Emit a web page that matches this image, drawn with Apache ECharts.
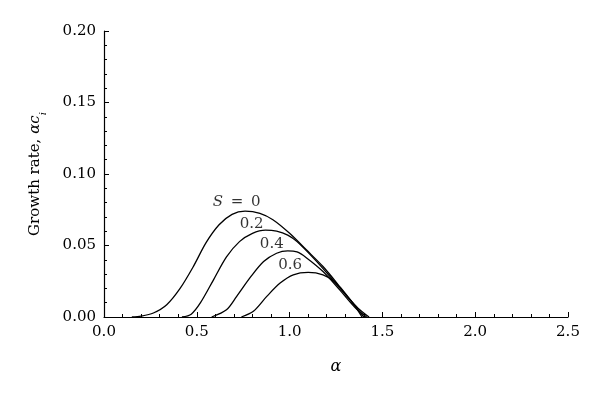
<!DOCTYPE html>
<html>
<head>
<meta charset="utf-8">
<script src="https://cdn.jsdelivr.net/npm/echarts@6/dist/echarts.min.js"></script>
<style>
  html, body { margin: 0; padding: 0; background: #fff; }
  #chart { width: 600px; height: 398px; }
</style>
</head>
<body>
<div id="chart"></div>
<script>
// curves, one pair of arrays per S
const alphaS0 = [0.15, 0.20, 0.266, 0.338, 0.41, 0.48, 0.55, 0.62, 0.69, 0.76, 0.84, 0.91, 1.00, 1.09, 1.18, 1.27, 1.34, 1.39]
const growthS0 = [0, 0.0006, 0.0028, 0.0086, 0.020, 0.035, 0.052, 0.0645, 0.0718, 0.0740, 0.0725, 0.0680, 0.0585, 0.0470, 0.0353, 0.0213, 0.0098, 0]

const alphaS02 = [0.42, 0.47, 0.52, 0.59, 0.66, 0.73, 0.80, 0.87, 0.93, 0.99, 1.04, 1.13, 1.22, 1.31, 1.40]
const growthS02 = [0, 0.002, 0.010, 0.026, 0.042, 0.0527, 0.0585, 0.0607, 0.0600, 0.0573, 0.0527, 0.041, 0.028, 0.0144, 0]

const alphaS04 = [0.58, 0.66, 0.715, 0.79, 0.86, 0.93, 0.99, 1.04, 1.09, 1.18, 1.27, 1.35, 1.415]
const growthS04 = [0, 0.005, 0.0144, 0.028, 0.0388, 0.0446, 0.0463, 0.0455, 0.0415, 0.0318, 0.019, 0.007, 0]

const alphaS06 = [0.74, 0.805, 0.877, 0.949, 1.02, 1.10, 1.18, 1.24, 1.31, 1.37, 1.428]
const growthS06 = [0, 0.004, 0.0144, 0.0237, 0.0295, 0.0312, 0.0295, 0.0248, 0.0144, 0.006, 0]

// curve labels (data coords)
const labelText = ['{s|S}\u2009 = \u20090', '0.2', '0.4', '0.6']
const labelAlpha = [0.715, 0.796, 0.904, 1.003]
const labelGrowth = [0.0806, 0.065, 0.051, 0.0365]

const FONT = 'DejaVu Serif'

const zip = (xs, ys) => xs.map((x, i) => [x, ys[i]])

function curve(xs, ys) {
  return {
    type: 'line',
    data: zip(xs, ys),
    smooth: 0.3,
    showSymbol: false,
    silent: true,
    lineStyle: { color: '#000', width: 1.3 },
    animation: false
  }
}

const chart = echarts.init(document.getElementById('chart'), null, { renderer: 'canvas' })

chart.setOption({
  backgroundColor: '#fff',
  textStyle: { fontFamily: FONT },
  grid: { left: 104, right: 32, top: 31, bottom: 81 },
  xAxis: {
    type: 'value',
    min: 0,
    max: 2.5,
    interval: 0.5,
    name: 'α',
    nameLocation: 'middle',
    nameGap: 42,
    nameTextStyle: { fontFamily: FONT, fontSize: 16, fontStyle: 'italic', color: '#000' },
    axisLine: { show: true, onZero: false, lineStyle: { color: '#000', width: 1.2 } },
    axisTick: { show: true, inside: true, length: 5, lineStyle: { color: '#000' } },
    minorTick: { show: true, splitNumber: 5, length: 3, lineStyle: { color: '#000' } },
    splitLine: { show: false },
    axisLabel: { color: '#000', fontFamily: FONT, fontSize: 15, margin: 8, formatter: v => v.toFixed(1) }
  },
  yAxis: {
    type: 'value',
    min: 0,
    max: 0.2,
    interval: 0.05,
    name: '{n|Growth rate, }{i|αc}{b|i}',
    nameLocation: 'middle',
    nameRotate: 90,
    nameGap: 59,
    nameTextStyle: {
      color: '#000',
      rich: {
        n: { fontFamily: FONT, fontSize: 15, color: '#000', lineHeight: 20, verticalAlign: 'middle' },
        i: { fontFamily: FONT, fontSize: 15, fontStyle: 'italic', color: '#000', lineHeight: 20, verticalAlign: 'middle' },
        b: { fontFamily: FONT, fontSize: 10, fontStyle: 'italic', color: '#000', lineHeight: 20, verticalAlign: 'bottom', padding: [0, 0, -3, 0] }
      }
    },
    axisLine: { show: true, onZero: false, lineStyle: { color: '#000', width: 1.2 } },
    axisTick: { show: true, inside: true, length: 5, lineStyle: { color: '#000' } },
    minorTick: { show: true, splitNumber: 5, length: 3, lineStyle: { color: '#000' } },
    splitLine: { show: false },
    axisLabel: { color: '#000', fontFamily: FONT, fontSize: 15, margin: 8, formatter: v => v.toFixed(2) }
  },
  series: [
    curve(alphaS0, growthS0),
    curve(alphaS02, growthS02),
    curve(alphaS04, growthS04),
    curve(alphaS06, growthS06),
    {
      type: 'scatter',
      silent: true,
      symbolSize: 0,
      animation: false,
      data: labelText.map((t, i) => ({ value: [labelAlpha[i], labelGrowth[i]], name: t })),
      label: {
        show: true,
        position: 'inside',
        formatter: p => p.name,
        fontFamily: FONT,
        fontSize: 15,
        color: '#000',
        rich: { s: { fontFamily: FONT, fontSize: 15, fontStyle: 'italic', color: '#000' } }
      }
    }
  ]
})
</script>
</body>
</html>
